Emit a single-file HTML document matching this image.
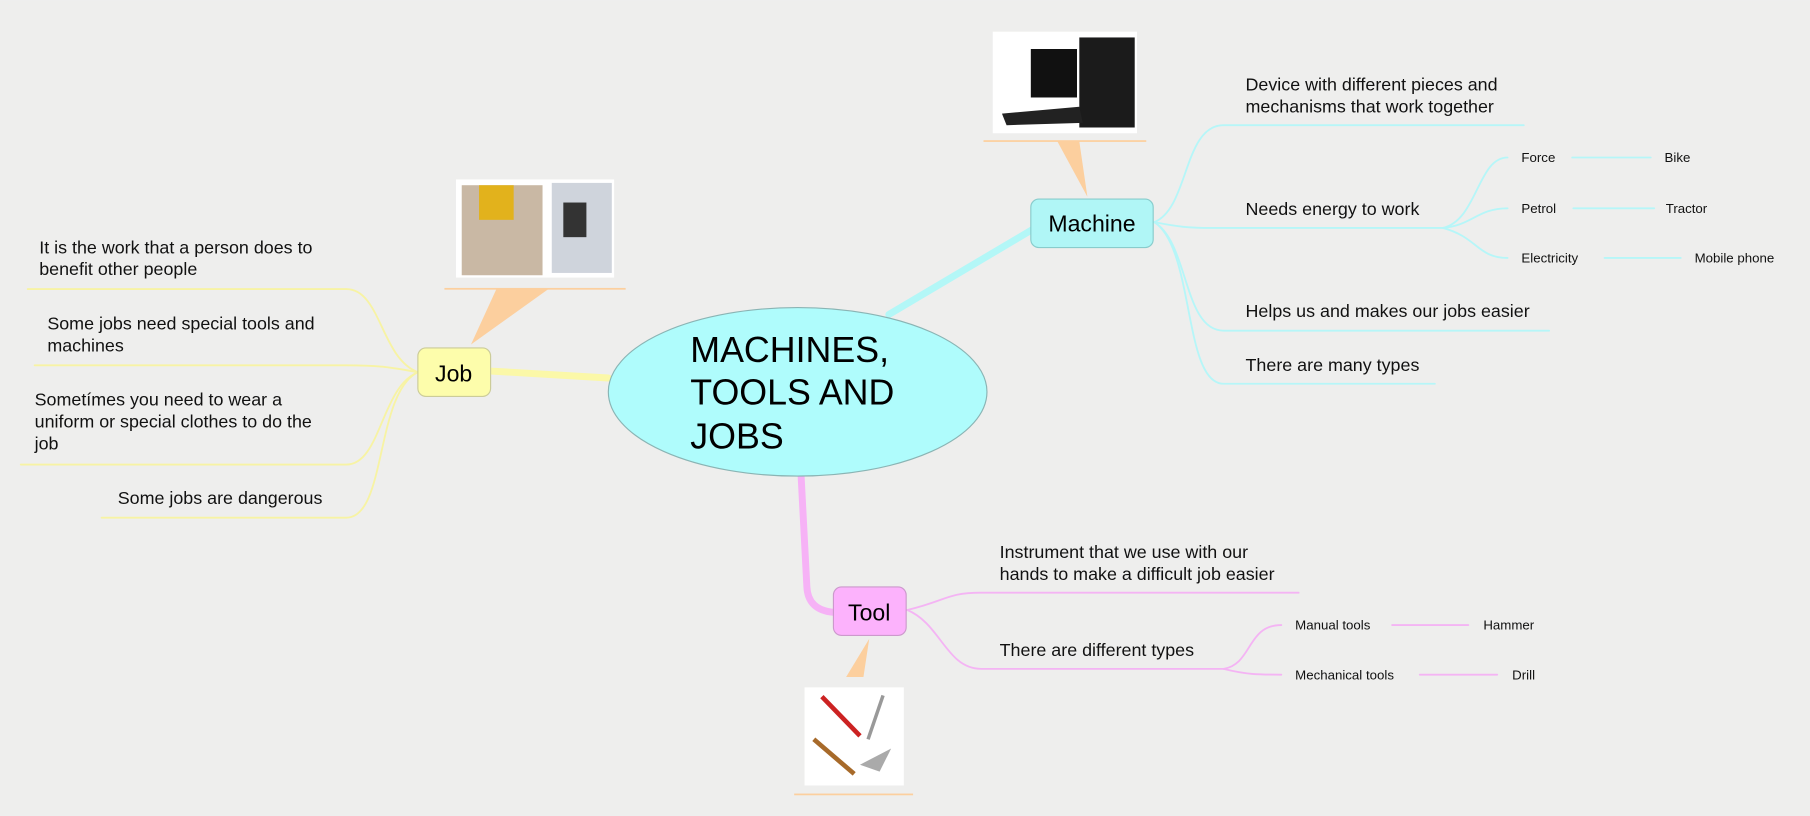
<!DOCTYPE html>
<html><head><meta charset="utf-8"><style>
html,body{margin:0;padding:0;background:#eeeeee;}
svg{display:block;font-family:"Liberation Sans",Arial,sans-serif;}
</style></head><body>
<svg width="1810" height="816" viewBox="0 0 1568 706" xmlns="http://www.w3.org/2000/svg">
<rect width="1568" height="706" fill="#eeeeed"/>
<g fill="none" stroke-linecap="round">
<!-- main connectors -->
<path d="M770,272 L895,198" stroke="#b3f7f7" stroke-width="6"/>
<path d="M527,327 L425,321" stroke="#fbf8a8" stroke-width="6"/>
<path d="M694,412 L699,508 Q700,528 722,530" stroke="#f6b2f6" stroke-width="6"/>
<!-- machine branches -->
<g stroke="#b6f6f8" stroke-width="1.6">
<path d="M1000,192 C1030,180 1025,108 1060,108 L1320,108"/>
<path d="M1000,192 C1020,196 1030,197 1050,197 L1250,197"/>
<path d="M1000,192 C1030,210 1025,286 1060,286 L1342,286"/>
<path d="M1000,192 C1035,215 1025,332 1060,332 L1243,332"/>
<path d="M1250,197 C1280,190 1280,136 1306,136"/>
<path d="M1250,197 C1275,195 1280,180 1306,180"/>
<path d="M1250,197 C1280,205 1280,223 1306,223"/>
<path d="M1362,136 L1430,136"/><path d="M1363,180 L1433,180"/><path d="M1390,223 L1456,223"/>
</g>
<!-- job branches -->
<g stroke="#f7f3a4" stroke-width="1.6">
<path d="M362,322 C330,310 330,250 300,250 L24,250"/>
<path d="M362,322 C340,318 330,316 300,316 L30,316"/>
<path d="M362,322 C330,335 330,402 300,402 L18,402"/>
<path d="M362,322 C325,340 335,448 300,448 L88,448"/>
</g>
<!-- tool branches -->
<g stroke="#f4b4f4" stroke-width="1.6">
<path d="M786,528 C820,520 820,513 850,513 L1125,513"/>
<path d="M786,528 C815,540 820,579 850,579 L1060,579"/>
<path d="M1060,579 C1085,575 1080,541 1110,541"/>
<path d="M1060,579 C1080,584 1090,584 1110,584"/>
<path d="M1206,541 L1272,541"/><path d="M1230,584 L1297,584"/>
</g>
</g>
<!-- image callouts -->
<g fill="#fccf9e">
<polygon points="430,250 475,250 408,298"/>
<rect x="385" y="249" width="157" height="1.5"/>
<polygon points="916,122 935,122 942,170"/>
<rect x="852" y="121" width="141" height="1.5"/>
<polygon points="733,586 748,586 753,553"/>
<rect x="688" y="687" width="103" height="1.5"/>
</g>
<!-- images -->
<rect x="395" y="155" width="137" height="85" fill="#fff"/>
<rect x="400" y="160" width="70" height="78" fill="#c9b8a4"/>
<rect x="415" y="160" width="30" height="30" fill="#e2b21c"/>
<rect x="478" y="158" width="52" height="78" fill="#cfd4dc"/>
<rect x="488" y="175" width="20" height="30" fill="#333"/>
<rect x="860" y="27" width="125" height="88" fill="#fff"/>
<rect x="893" y="42" width="40" height="42" fill="#111"/>
<rect x="935" y="32" width="48" height="78" fill="#1b1b1b"/>
<polygon points="868,98 935,92 938,106 872,108" fill="#222"/>
<rect x="697" y="595" width="86" height="85" fill="#fff"/>
<path d="M712,603 L745,637" stroke="#c22" stroke-width="4"/>
<path d="M765,602 L752,640" stroke="#999" stroke-width="3"/>
<path d="M705,640 L740,670" stroke="#a76a2a" stroke-width="4"/>
<polygon points="745,662 772,648 762,668" fill="#aaa"/>
<!-- nodes -->
<ellipse cx="691" cy="339" rx="164" ry="73" fill="#affcfc" stroke="#8ab4b4" stroke-width="1"/>
<g font-size="31" fill="#000"><text x="598" y="313">MACHINES,</text><text x="598" y="350">TOOLS AND</text><text x="598" y="388">JOBS</text></g>
<rect x="893" y="172" width="106" height="42" rx="7" fill="#b0f6f6" stroke="#8cc" stroke-width="1"/>
<text x="946" y="200" font-size="20" text-anchor="middle">Machine</text>
<rect x="362" y="301" width="63" height="42" rx="7" fill="#fdfdab" stroke="#cc9" stroke-width="1"/>
<text x="393" y="330" font-size="20" text-anchor="middle">Job</text>
<rect x="722" y="508" width="63" height="42" rx="7" fill="#fcb2fc" stroke="#c9c" stroke-width="1"/>
<text x="753" y="537" font-size="20" text-anchor="middle">Tool</text>
<!-- labels -->
<g font-size="15.5" fill="#111">
<text x="1079" y="78">Device with different pieces and</text>
<text x="1079" y="97">mechanisms that work together</text>
<text x="1079" y="186">Needs energy to work</text>
<text x="1079" y="274">Helps us and makes our jobs easier</text>
<text x="1079" y="321">There are many types</text>
<text x="34" y="219">It is the work that a person does to</text>
<text x="34" y="238">benefit other people</text>
<text x="41" y="285">Some jobs need special tools and</text>
<text x="41" y="304">machines</text>
<text x="30" y="351">Sometímes you need to wear a</text>
<text x="30" y="370">uniform or special clothes to do the</text>
<text x="30" y="389">job</text>
<text x="102" y="436">Some jobs are dangerous</text>
<text x="866" y="483">Instrument that we use with our</text>
<text x="866" y="502">hands to make a difficult job easier</text>
<text x="866" y="568">There are different types</text>
</g>
<g font-size="11.5" fill="#111">
<text x="1318" y="140">Force</text><text x="1442" y="140">Bike</text>
<text x="1318" y="184">Petrol</text><text x="1443" y="184">Tractor</text>
<text x="1318" y="227">Electricity</text><text x="1468" y="227">Mobile phone</text>
<text x="1122" y="545">Manual tools</text><text x="1285" y="545">Hammer</text>
<text x="1122" y="588">Mechanical tools</text><text x="1310" y="588">Drill</text>
</g>
</svg>
</body></html>
